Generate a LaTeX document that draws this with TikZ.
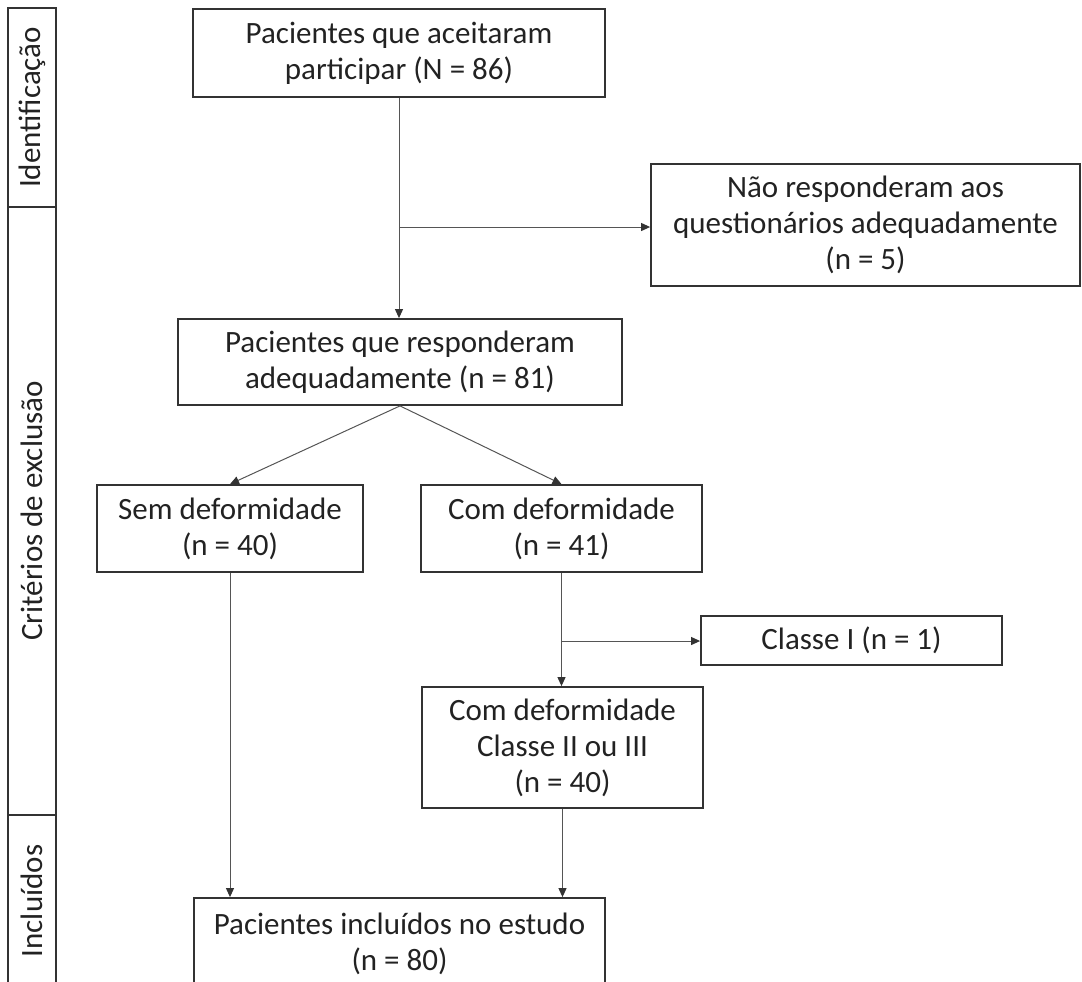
\documentclass[tikz,border=0pt]{standalone}
\usepackage{fontspec}
\setmainfont{Carlito}
\usetikzlibrary{arrows.meta}
\definecolor{linegray}{HTML}{555555}
\definecolor{boxgray}{HTML}{333333}
\definecolor{txtgray}{HTML}{222222}
\tikzset{
	caixa/.style={draw=boxgray, line width=0.9pt, align=center, inner sep=0pt, text=txtgray, font=\fontsize{15.5}{18}\selectfont},
	seta/.style={draw=linegray, line width=0.5pt, -{Triangle[length=4.5pt,width=4pt,color=boxgray]}},
	fase/.style={draw=boxgray, line width=0.9pt},
	rotulo/.style={rotate=90, text=txtgray, font=\fontsize{15.5}{18}\selectfont}
}

\begin{document}
\begin{tikzpicture}[x=0.5pt, y=-0.5pt]
		\useasboundingbox (0,0) rectangle (1082,981);

		\draw[fase] (8,8) rectangle (56,207);
		\draw[fase] (8,207) rectangle (56,815);
		\draw[fase] (8,815) rectangle (56,992);
		\node[rotulo] (ident) at (32,107.5) {Identificação};
		\node[rotulo] (crit) at (32,511) {Critérios de exclusão};
		\node[rotulo] (inclu) at (32,901) {Incluídos};

		\node[caixa, minimum width=206pt, minimum height=44pt] (aceit) at (399,53) {Pacientes que aceitaram\\participar (N = 86)};
		\node[caixa, minimum width=214.5pt, minimum height=61pt] (naoresp) at (865.5,225) {Não responderam aos\\questionários adequadamente\\(n = 5)};
		\node[caixa, minimum width=222pt, minimum height=43pt] (resp) at (400,362) {Pacientes que responderam\\adequadamente (n = 81)};
		\node[caixa, minimum width=133pt, minimum height=43.5pt] (semdef) at (230,528.5) {Sem deformidade\\(n = 40)};
		\node[caixa, minimum width=140.5pt, minimum height=43.5pt] (comdef) at (561.5,528.5) {Com deformidade\\(n = 41)};
		\node[caixa, minimum width=150.5pt, minimum height=24.5pt] (classe) at (851.5,640.5) {Classe I (n = 1)};
		\node[caixa, minimum width=140.5pt, minimum height=60.5pt] (comii) at (562.5,747.5) {Com deformidade\\Classe II ou III\\(n = 40)};
		\node[caixa, minimum width=205.5pt, minimum height=46pt] (inclui) at (399.5,944) {Pacientes incluídos no estudo\\(n = 80)};

		\coordinate (b1) at (399,227);
		\coordinate (b2) at (562,641);
		\draw[seta] (aceit.south) -- (aceit.south |- resp.north);
		\draw[seta] (b1) -- (b1 -| naoresp.west);
		\draw[seta] (resp.south) -- (semdef.north);
		\draw[seta] (resp.south) -- (comdef.north);
		\draw[seta] (comdef.south) -- (comdef.south |- comii.north);
		\draw[seta] (b2) -- (b2 -| classe.west);
		\draw[seta] (semdef.south) -- (semdef.south |- inclui.north);
		\draw[seta] (comii.south) -- (comii.south |- inclui.north);
	\end{tikzpicture}
\end{document}
